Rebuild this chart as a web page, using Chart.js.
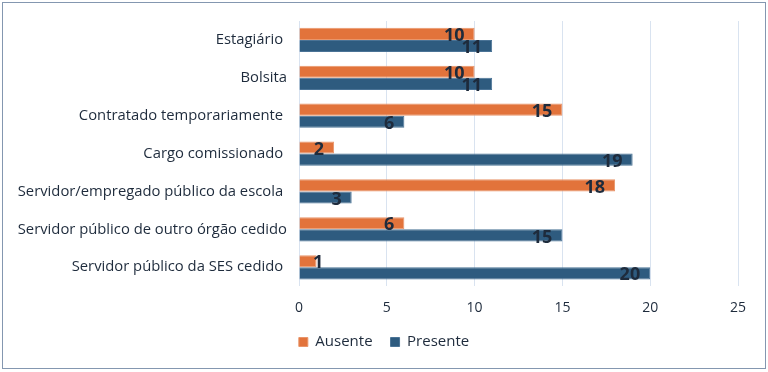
<!DOCTYPE html>
<html>
<head>
<meta charset="utf-8">
<script src="https://cdn.jsdelivr.net/npm/chart.js@4"></script>
<style>
  body { margin: 0; background: #fff; }
  #wrap { position: relative; width: 768px; height: 372px; }
  #frame { position: absolute; left: 2px; top: 2px; width: 762px; height: 365px; border: 1px solid #8497b0; pointer-events: none; }
</style>
</head>
<body>
<div id="wrap">
  <canvas id="chart" width="768" height="372"></canvas>
  <div id="frame"></div>
</div>
<script>
// dados do gráfico
const categorias = [
    'Estagiário ',
    'Bolsita',
    'Contratado temporariamente ',
    'Cargo comissionado ',
    'Servidor/empregado público da escola ',
    'Servidor público de outro órgão cedido',
    'Servidor público da SES cedido '
];
const ausente = [10, 10, 15, 2, 18, 6, 1];
const presente = [11, 11, 6, 19, 3, 15, 20];
const ticksX = [0, 5, 10, 15, 20, 25];

const corTexto = '#1e2b3c';
const fonte = "'Open Sans', 'Liberation Sans', sans-serif";
const legendaPad = 18;
const legendaFonte = 15;

// rótulos dentro do final da barra
const rotulos = {
    id: 'rotulos',
    beforeDraw(chart) {
        // legenda um pouco mais perto do eixo e centrada na figura toda
        chart.legend.top = 342 - legendaPad - legendaFonte / 2;
        chart.legend.right = chart.width;
    },
    afterDatasetsDraw(chart) {
        const ctx = chart.ctx;
        const base = chart.scales.x.getPixelForValue(0);
        ctx.save();
        ctx.font = 'bold 18px ' + fonte;
        ctx.fillStyle = corTexto;
        ctx.textAlign = 'right';
        ctx.textBaseline = 'middle';
        chart.data.datasets.forEach((ds, i) => {
            chart.getDatasetMeta(i).data.forEach((bar, j) => {
                const txt = String(ds.data[j]);
                const w = ctx.measureText(txt).width;
                const x = Math.max(bar.x - 10, base + 14 + w);
                ctx.fillText(txt, x, bar.y + 2);
            });
        });
        ctx.restore();
    }
};

new Chart(document.getElementById('chart'), {
    type: 'bar',
    data: {
        labels: categorias,
        datasets: [
            { label: 'Ausente', data: ausente, backgroundColor: '#e2733b', borderColor: '#e9956a', borderWidth: 1, categoryPercentage: 0.64, barPercentage: 1 },
            { label: 'Presente', data: presente, backgroundColor: '#2e5b7f', borderColor: '#4a7396', borderWidth: 1, categoryPercentage: 0.64, barPercentage: 1 }
        ]
    },
    options: {
        indexAxis: 'y',
        responsive: false,
        animation: false,
        layout: { padding: { top: 21, right: 30, bottom: 0, left: 0 } },
        scales: {
            x: {
                min: 0, max: 25,
                afterBuildTicks: s => { s.ticks = ticksX.map(v => ({ value: v })); },
                grid: { color: '#d9e3f0', drawTicks: false },
                border: { display: false },
                ticks: { color: corTexto, font: { family: fonte, size: 14 }, padding: 13 }
            },
            y: {
                afterFit: s => { s.width = 299; },
                grid: { display: false, drawTicks: false },
                border: { display: false },
                ticks: { color: corTexto, font: { family: fonte, size: 14.8 }, padding: 12 }
            }
        },
        plugins: {
            legend: {
                position: 'bottom',
                labels: { color: corTexto, font: { family: fonte, size: legendaFonte }, boxWidth: 9, boxHeight: 9, padding: legendaPad }
            },
            tooltip: { enabled: false }
        }
    },
    plugins: [rotulos]
});
</script>
</body>
</html>
